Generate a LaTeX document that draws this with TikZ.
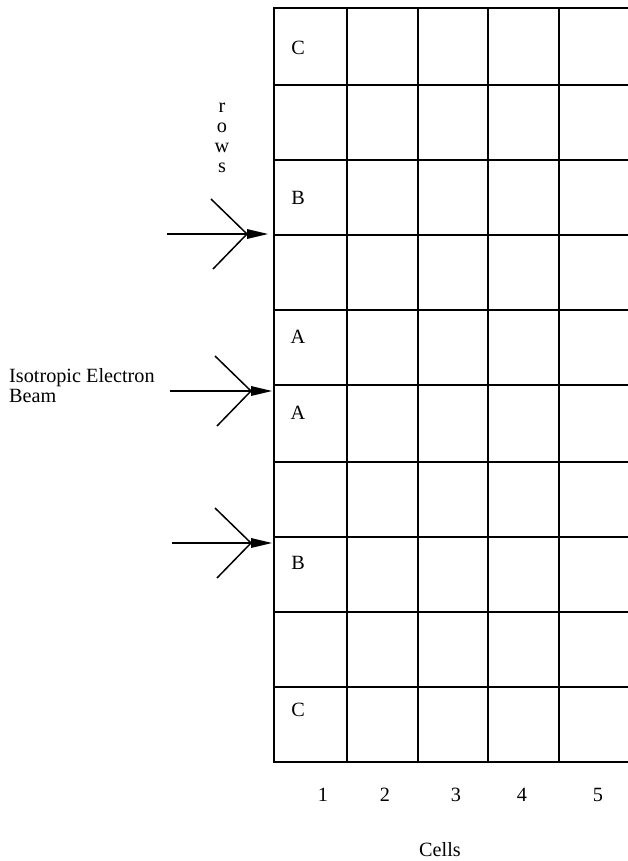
\documentclass[tikz,border=0pt]{standalone}
\usepackage{fontspec}
\setmainfont{Liberation Serif}
\begin{document}
\begin{tikzpicture}[x=1bp,y=-1bp,
  grid/.style={line width=1.6bp,line cap=rect},
  beam/.style={line width=1.5bp},
  lbl/.style={font=\fontsize{20.3}{20}\selectfont,inner sep=0pt},
]
\useasboundingbox (0,0) rectangle (628,861);
% grid
\foreach \y in {8,85,160,235,310,385,462,537,612,687,762}
  \draw[grid] (274,\y) -- (628,\y);
\foreach \x in {274,347,418,488,559}
  \draw[grid] (\x,8) -- (\x,762);
% cell letters
\node[lbl] (c1) at (298,48) {C};
\node[lbl] (b1) at (298,198) {B};
\node[lbl] (a1) at (298,337) {A};
\node[lbl] (a2) at (298,413) {A};
\node[lbl] (b2) at (298,563) {B};
\node[lbl] (c2) at (298,710) {C};
% rows label
\node[lbl,align=center] (rows) at (222,138) {r\\o\\w\\s};
% column numbers
\node[lbl] (n1) at (323,795) {1};
\node[lbl] (n2) at (385,795) {2};
\node[lbl] (n3) at (456,795) {3};
\node[lbl] (n4) at (522,795) {4};
\node[lbl] (n5) at (598,795) {5};
\node[lbl] (cells) at (440,850) {Cells};
\node[lbl,align=left,anchor=west] (iso) at (9,386) {Isotropic Electron\\Beam};
% beams
\foreach \i/\yy/\xs/\tx in {1/234/167/268, 2/391/170/272, 3/543/172/272}{
  \coordinate (s\i) at (\xs,\yy);
  \coordinate (t\i) at (\tx,\yy);
  \coordinate (m\i) at (\tx-21,\yy);
  \coordinate (u\i) at (\tx-57,\yy-35);
  \coordinate (l\i) at (\tx-55,\yy+35);
  \draw[beam] (s\i) -- (m\i);
  \draw[beam] (u\i) -- (m\i) -- (l\i);
  \fill (t\i) -- ([yshift=-5bp]m\i) -- ([yshift=5bp]m\i) -- cycle;
}
\end{tikzpicture}
\end{document}
